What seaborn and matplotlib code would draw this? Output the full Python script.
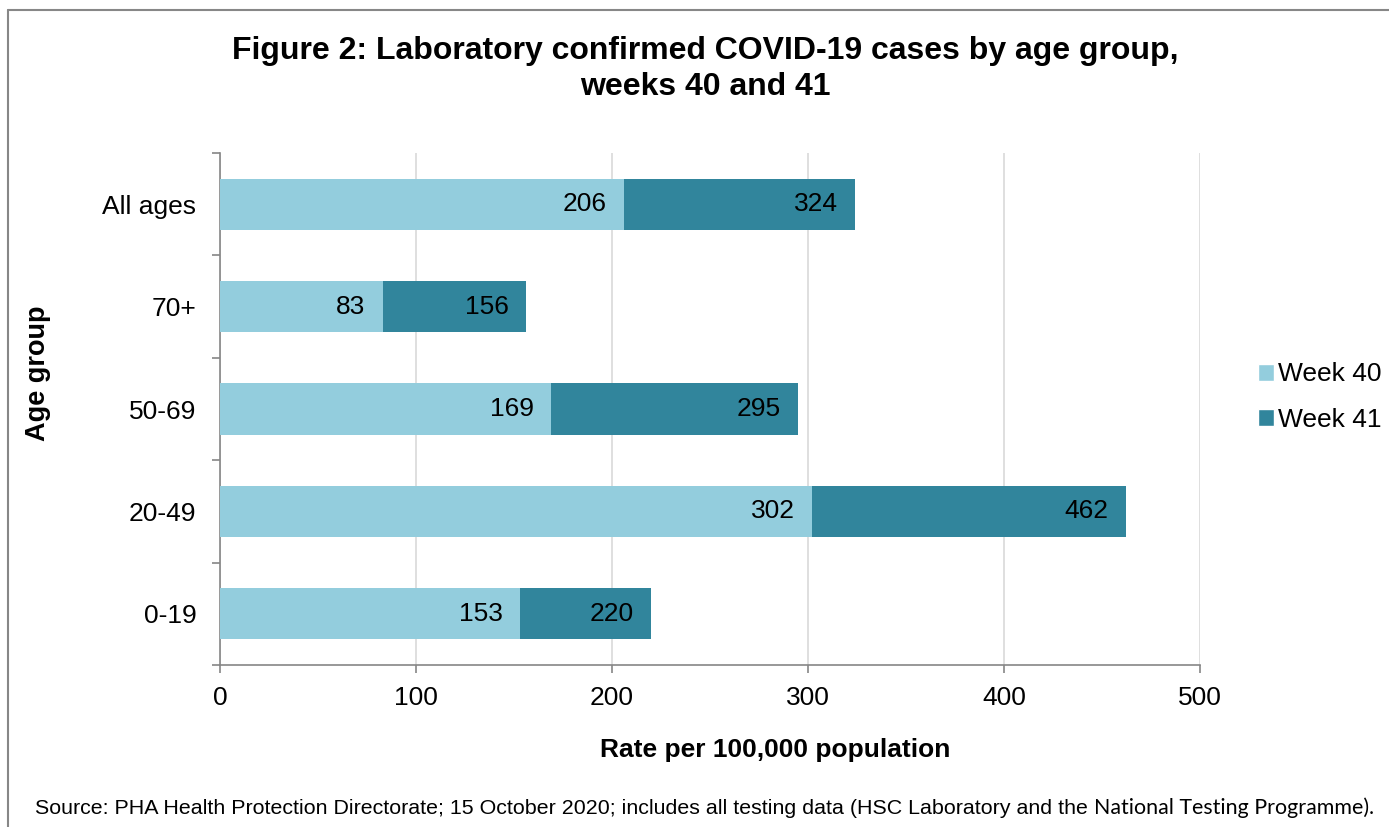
import numpy as np
import pandas as pd
import seaborn as sns
import matplotlib.pyplot as plt
from matplotlib.patches import Patch
from matplotlib.lines import Line2D

# dados
grupos = ['All ages', '70+', '50-69', '20-49', '0-19']
semana40 = [206, 83, 169, 302, 153]
semana41 = [324, 156, 295, 462, 220]
xticks = [0, 100, 200, 300, 400, 500]

cor40 = '#93CDDD'
cor41 = '#31859C'

sns.set_theme(style='white')
plt.rcParams['font.family'] = ['Liberation Sans', 'DejaVu Sans']
plt.rcParams['text.color'] = 'black'
plt.rcParams['xtick.color'] = 'black'
plt.rcParams['ytick.color'] = 'black'
plt.rcParams['xtick.labelcolor'] = 'black'
plt.rcParams['ytick.labelcolor'] = 'black'

dados = pd.DataFrame({'grupo': grupos, 'w40': semana40, 'w41': semana41})

fig = plt.figure(figsize=(13.89, 8.27), dpi=100)
ax = fig.add_axes([220 / 1389, 1 - 665 / 827, 980 / 1389, 512 / 827])

# barras sobrepostas: semana 41 por baixo, semana 40 por cima
sns.barplot(data=dados, x='w41', y='grupo', order=grupos, color=cor41,
            width=0.5, saturation=1, orient='h', ax=ax, zorder=2, linewidth=0)
sns.barplot(data=dados, x='w40', y='grupo', order=grupos, color=cor40,
            width=0.5, saturation=1, orient='h', ax=ax, zorder=3, linewidth=0)

# rotulos dentro das barras
for i, (a, b) in enumerate(zip(semana40, semana41)):
    for v in (a, b):
        ax.annotate(str(v), (v, i), xytext=(-12.5, 0), textcoords='offset points',
                    ha='right', va='center', fontsize=19, color='black', zorder=5)

ax.set_xlim(0, 500)
ax.set_ylim(4.5, -0.5)
ax.set_xticks(xticks)
ax.set_xticklabels([str(t) for t in xticks], fontsize=19)
ax.tick_params(axis='x', which='major', direction='out', length=6, width=1.2,
               color='#868686', pad=9, bottom=True)
ax.set_yticks(range(len(grupos)))
ax.set_yticklabels(grupos, fontsize=19)
ax.tick_params(axis='y', which='major', length=0, pad=17)
ax.set_yticks(np.arange(-0.5, len(grupos), 1), minor=True)
ax.tick_params(axis='y', which='minor', direction='out', length=6, width=1.2,
               color='#868686', left=True)
ax.xaxis.grid(True, color='#D9D9D9', linewidth=1.2, zorder=0)
ax.set_axisbelow(True)
ax.set_xlabel('')
ax.set_ylabel('')
for s in ['top', 'right']:
    ax.spines[s].set_visible(False)
for s in ['left', 'bottom']:
    ax.spines[s].set_color('#868686')
    ax.spines[s].set_linewidth(1.2)

# legenda
handles = [Patch(facecolor=cor40, label='Week 40'), Patch(facecolor=cor41, label='Week 41')]
fig.legend(handles=handles, loc='center left', bbox_to_anchor=(1234 / 1389, 1 - 397 / 827),
           frameon=False, fontsize=19, handlelength=0.6, handleheight=0.6,
           handletextpad=0.15, labelspacing=0.8)

# titulos
fig.text(705 / 1389, 1 - 69 / 827,
         'Figure 2: Laboratory confirmed COVID-19 cases by age group,\nweeks 40 and 41',
         ha='center', va='center', fontsize=23, fontweight='bold', linespacing=1.3)
fig.text(775 / 1389, 1 - 750 / 827, 'Rate per 100,000 population', ha='center', va='center',
         fontsize=19, fontweight='bold')
fig.text(38 / 1389, 1 - 373 / 827, 'Age group', ha='center', va='center', rotation=90,
         fontsize=19.5, fontweight='bold')

# fonte
t1 = fig.text(35 / 1389, 1 - 808 / 827,
              'Source: PHA Health Protection Directorate; 15 October 2020; includes all testing data (HSC Laboratory and the ',
              ha='left', va='center', fontsize=15.4)
fig.canvas.draw()
bb = t1.get_window_extent()
fig.text(bb.x1 / fig.bbox.width, 1 - 808 / 827, 'National Testing Programme).',
         ha='left', va='center', fontsize=15.4, family=['Lato', 'DejaVu Sans'])

# moldura
fig.add_artist(Line2D([8 / 1389, 1], [1 - 10 / 827, 1 - 10 / 827], transform=fig.transFigure,
                      color='#878787', linewidth=1.5))
fig.add_artist(Line2D([8 / 1389, 8 / 1389], [0, 1 - 10 / 827], transform=fig.transFigure,
                      color='#878787', linewidth=1.5))

fig.savefig('out.png', dpi=100)
